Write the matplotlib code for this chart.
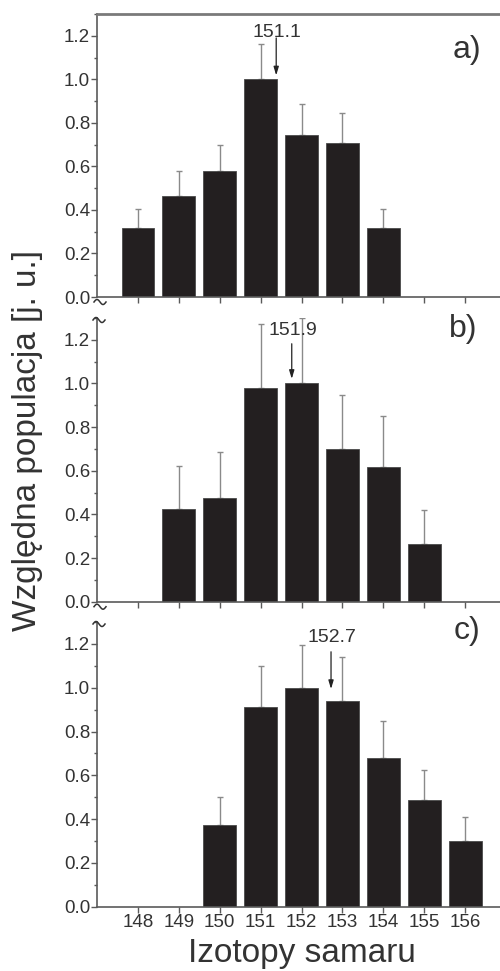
import matplotlib
matplotlib.use('Agg')
import numpy as np
import matplotlib.pyplot as plt
from matplotlib.ticker import MultipleLocator

plt.rcParams['font.family'] = ['Liberation Sans', 'DejaVu Sans']

# Data (relative population per samarium isotope)
isotopes_a = [148, 149, 150, 151, 152, 153, 154]
values_a = [0.315, 0.466, 0.577, 1.0, 0.746, 0.707, 0.315]
errors_a = [0.09, 0.112, 0.12, 0.162, 0.14, 0.14, 0.09]

isotopes_b = [149, 150, 151, 152, 153, 154, 155]
values_b = [0.425, 0.476, 0.978, 1.0, 0.698, 0.617, 0.264]
errors_b = [0.197, 0.21, 0.295, 0.30, 0.25, 0.232, 0.155]

isotopes_c = [150, 151, 152, 153, 154, 155, 156]
values_c = [0.375, 0.91, 0.997, 0.939, 0.677, 0.488, 0.298]
errors_c = [0.125, 0.191, 0.2, 0.2, 0.17, 0.138, 0.112]

mean_labels = ['151.1', '151.9', '152.7']
mean_arrow_x = [151.38, 151.76, 152.72]
panel_names = ['a)', 'b)', 'c)']
xticks = list(range(148, 157))

W, H = 500, 971
fig = plt.figure(figsize=(W / 100, H / 100), dpi=100)

spine_col = '#5a5a5a'
text_col = '#333333'
bar_col = '#231f20'

# panel geometry in pixels: (top, bottom)
panels_px = [(14, 297), (318, 601.7), (622, 906.7)]
left_px, right_px = 97, 500

datasets = [(isotopes_a, values_a, errors_a),
            (isotopes_b, values_b, errors_b),
            (isotopes_c, values_c, errors_c)]

# (text y, arrow start y, arrow end y) in data units
arrow_y = [(1.215, 1.19, 1.018), (1.245, 1.182, 1.021), (1.230, 1.164, 0.994)]
label_pos = [(156.04, 1.136), (155.95, 1.251), (156.04, 1.261)]


def break_mark(cx, cy):
    # small tilde drawn in figure pixels, marks the broken axis
    t = np.linspace(0, 2 * np.pi, 40)
    xs = (cx - 6 + 12 * t / (2 * np.pi)) / W
    ys = 1 - (cy - 2.5 * np.sin(t)) / H
    fig.add_artist(plt.Line2D(xs, ys, color=text_col, lw=1.1, transform=fig.transFigure))


for i, ((top, bot), (xs, ys, es)) in enumerate(zip(panels_px, datasets)):
    ax = fig.add_axes([left_px / W, 1 - bot / H, (right_px - left_px) / W, (bot - top) / H])
    ax.bar(xs, ys, width=0.8, color=bar_col, edgecolor='#4a4a4a', linewidth=0.6, zorder=2)
    ax.errorbar(xs, ys, yerr=[[0] * len(es), es], fmt='none', ecolor='#8a8a8a',
                elinewidth=1.0, capsize=2.5, capthick=1.0, zorder=1)
    ax.set_xlim(147, 156.85)
    ax.set_ylim(0, 1.3)
    ax.set_xticks(xticks)
    ax.yaxis.set_major_locator(MultipleLocator(0.2))
    ax.yaxis.set_minor_locator(MultipleLocator(0.1))
    ax.set_yticklabels(['%.1f' % v for v in ax.get_yticks()])
    ax.tick_params(axis='both', which='major', direction='out', length=4, width=1,
                   color=spine_col, labelsize=13.5, labelcolor=text_col, pad=1)
    ax.tick_params(axis='y', which='minor', direction='out', length=2.5, width=1, color=spine_col)
    if i < 2:
        ax.tick_params(axis='x', labelbottom=False)
    ax.spines['right'].set_visible(False)
    if i > 0:
        ax.spines['top'].set_visible(False)
    else:
        ax.spines['top'].set_linewidth(2.0)
        ax.spines['top'].set_color('#7a7a7a')
    for s in ['left', 'bottom']:
        ax.spines[s].set_color(spine_col)
        ax.spines[s].set_linewidth(1.2)
    ax.patch.set_alpha(0)

    ty, y0, y1 = arrow_y[i]
    ax.annotate('', xy=(mean_arrow_x[i], y1), xytext=(mean_arrow_x[i], y0),
                arrowprops=dict(arrowstyle='-|>,head_length=0.5,head_width=0.15',
                                color='#222222', lw=0.9, shrinkA=0, shrinkB=0), zorder=5)
    ax.text(mean_arrow_x[i] + 0.03, ty, mean_labels[i], ha='center', va='center',
            fontsize=14, color=text_col, zorder=6)
    ax.text(label_pos[i][0], label_pos[i][1], panel_names[i], ha='center', va='center',
            fontsize=23, color=text_col)

    # axis break marks
    if i < 2:
        break_mark(left_px + 3, bot + 5)
    if i > 0:
        break_mark(left_px + 2, top + 2)

fig.text(28 / W, 1 - 440 / H, 'Względna populacja [j. u.]', rotation=90,
         ha='center', va='center', fontsize=24, color=text_col)
fig.text(302 / W, 1 - 953 / H, 'Izotopy samaru', ha='center', va='center',
         fontsize=24, color=text_col)

fig.savefig('out.png', dpi=100)
plt.close(fig)
